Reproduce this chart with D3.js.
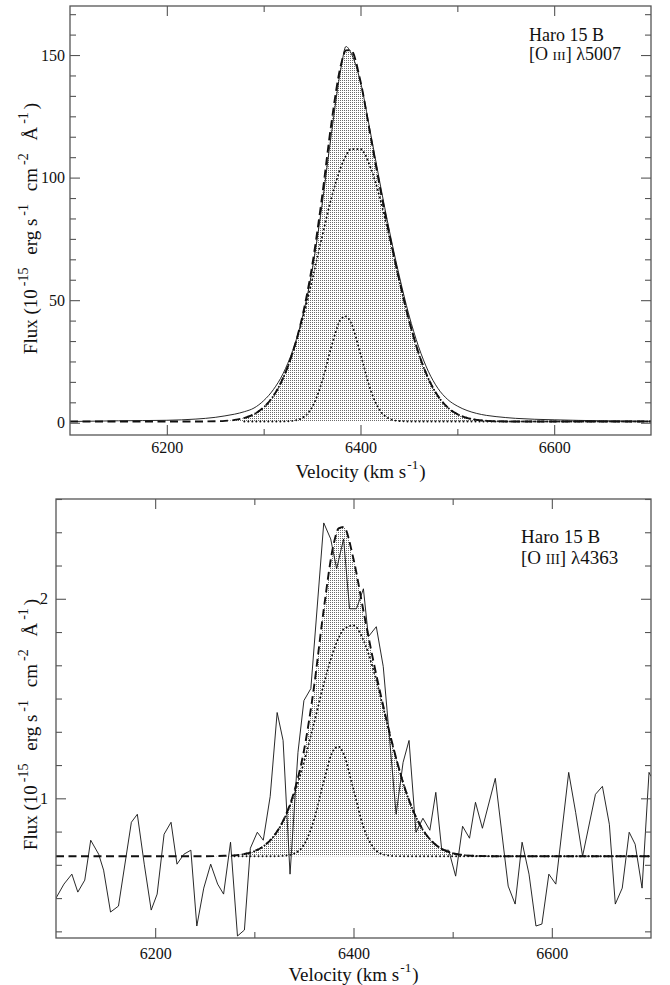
<!DOCTYPE html>
<html><head><meta charset="utf-8">
<script src="https://cdn.jsdelivr.net/npm/d3@7"></script>
<style>
body{margin:0;background:#fff}
svg{display:block}
text{font-family:"Liberation Serif","Times New Roman",serif;fill:#111}
</style>
</head><body>
<svg id="c" width="670" height="985"></svg>
<script>
// ---------- DATA ----------
const xTickLabels = [6200, 6400, 6600];
const xMinorTicks = [6300, 6500];

// Top panel: [O III] 5007
const topYTickLabels = [0, 50, 100, 150];
const topVel = [6100,6150,6200,6230,6250,6260,6270,6280,6290,6300,6310,6320,6330,6340,6350,6360,6370,6380,6385,6390,6400,6410,6420,6430,6440,6450,6460,6470,6480,6490,6500,6510,6520,6530,6540,6560,6600,6650,6700];
const topObs = [0.5,0.8,1.0,1.5,2.2,2.8,3.5,4.5,6.0,9.0,13.5,20,29.5,43,62,88,118,145,153.5,151,139,119,98,78,60,44,31,21,14,9.5,6.8,5.0,3.8,3.0,2.5,1.8,1.2,0.8,0.6];
const topTotal = [0.5,0.5,0.5,0.51,0.61,0.78,1.16,1.95,3.49,6.26,10.92,18.17,28.71,43.44,63.88,91.25,122.33,146.33,151.9,152.0,139.2,117.85,96.27,76.51,58.29,41.92,28.43,18.1,10.9,6.26,3.49,1.95,1.16,0.78,0.61,0.51,0.5,0.5,0.5];
const topCompVel = [6280,6290,6300,6310,6320,6330,6340,6350,6360,6370,6380,6385,6390,6400,6410,6420,6430,6440,6450,6460,6470,6480,6490,6500,6510,6520,6530,6540,6560,6600,6650,6700];
const topBroad = [1.95,3.49,6.26,10.92,18.13,28.43,41.93,58.06,75.37,91.7,104.5,108.9,111.6,111.6,104.5,91.7,75.4,58.1,41.9,28.4,18.1,10.9,6.26,3.49,1.95,1.16,0.78,0.61,0.51,0.5,0.5,0.5];
const topNarrow = [0.5,0.5,0.5,0.5,0.54,0.78,2.01,6.32,16.38,31.13,42.33,43.4,40.9,28.11,13.85,5.07,1.61,0.69,0.52,0.5,0.5,0.5,0.5,0.5,0.5,0.5,0.5,0.5,0.5,0.5,0.5,0.5];
const topContinuum = 0.5;

// Bottom panel: [O III] 4363
const botYTickLabels = [1, 2];
const botObsVel = [6100,6108,6116,6122,6129,6135,6143,6148,6155,6163,6176,6182,6189,6196,6202,6209,6216,6222,6229,6236,6242,6249,6256,6263,6269,6276,6283,6290,6296,6303,6309,6316,6323,6329,6336,6344,6350,6357,6370,6377,6383,6390,6396,6403,6410,6415,6423,6430,6443,6450,6456,6463,6470,6477,6483,6489,6496,6503,6510,6517,6523,6530,6543,6556,6563,6570,6577,6584,6590,6597,6604,6617,6624,6631,6644,6651,6658,6664,6671,6678,6684,6691,6698,6700];
const botObs = [0.50,0.57,0.62,0.53,0.59,0.79,0.72,0.64,0.43,0.46,0.88,0.92,0.67,0.44,0.52,0.82,0.88,0.67,0.72,0.74,0.36,0.55,0.67,0.57,0.52,0.78,0.31,0.34,0.75,0.83,0.79,1.01,1.43,1.29,0.62,1.23,1.49,1.55,2.38,2.30,2.15,2.30,1.95,1.95,2.05,1.81,1.86,1.66,0.92,1.18,1.29,0.83,0.90,0.84,1.03,0.74,0.74,0.61,0.86,0.80,0.98,0.85,1.10,0.56,0.47,0.78,0.62,0.36,0.37,0.62,0.57,1.13,0.93,0.71,1.02,1.06,0.87,0.47,0.55,0.83,0.77,0.55,1.13,1.11];
const botFitVel = [6100,6250,6270,6280,6290,6300,6310,6320,6330,6340,6350,6360,6370,6380,6385,6390,6400,6410,6420,6430,6440,6450,6460,6470,6480,6490,6500,6510,6520,6540,6600,6700];
const botTotal = [0.71,0.71,0.712,0.714,0.721,0.735,0.763,0.813,0.897,1.031,1.238,1.552,1.947,2.274,2.353,2.360,2.199,1.940,1.689,1.463,1.258,1.079,0.940,0.842,0.780,0.744,0.725,0.716,0.712,0.71,0.71,0.71];
const botCompVel = [6280,6290,6300,6310,6320,6330,6340,6350,6360,6370,6380,6385,6390,6400,6410,6420,6430,6440,6450,6460,6470,6480,6490,6500,6510,6520,6540,6600,6700];
const botBroad = [0.714,0.721,0.735,0.763,0.813,0.896,1.018,1.181,1.373,1.572,1.741,1.804,1.847,1.866,1.793,1.645,1.454,1.255,1.079,0.940,0.842,0.780,0.744,0.725,0.716,0.712,0.71,0.71,0.71];
const botNarrow = [0.71,0.71,0.71,0.71,0.71,0.712,0.723,0.768,0.889,1.085,1.243,1.259,1.223,1.044,0.857,0.754,0.719,0.711,0.71,0.71,0.71,0.71,0.71,0.71,0.71,0.71,0.71,0.71,0.71];
const botContinuum = 0.71;

// ---------- DRAW ----------
const svg = d3.select('#c');
const defs = svg.append('defs');
const pat = defs.append('pattern').attr('id','stip').attr('patternUnits','userSpaceOnUse')
  .attr('width',2).attr('height',2);
pat.append('rect').attr('width',2).attr('height',2).attr('fill','#fff');
pat.append('rect').attr('width',1).attr('height',1).attr('fill','#6a6a6a');

// parts: [text, kind, dx]
function rich(sel, parts, size, supScale){
  let cur = 0;
  parts.forEach(([t,k,dx])=>{
    const ts = sel.append('tspan').text(t);
    let target = 0;
    if(k==='sup'){ target = -size*0.45; ts.attr('font-size', size*(supScale||0.68)); }
    else if(k==='sc'){ ts.attr('font-size', size*0.74); }
    if(target-cur !== 0) ts.attr('dy', target-cur);
    if(dx) ts.attr('dx', dx);
    cur = target;
  });
}

const fluxLabel = [['Flux (10'],['-15','sup',3],[' erg s','',8],['-1','sup',3],[' cm','',8],['-2','sup',3],[' \u00C5','',8],['-1','sup',3],[')','',3]];
const velLabel = [['Velocity (km s'],['-1','sup',1],[')','',1]];

function panel(cfg, id){
  const {x0,x1,y0,y1,ydom} = cfg;
  const x = d3.scaleLinear().domain([6100,6700]).range([x0,x1]);
  const y = d3.scaleLinear().domain(ydom).range([y1,y0]);
  const g = svg.append('g');
  defs.append('clipPath').attr('id','clip'+id).append('rect')
    .attr('x',x0).attr('y',y0).attr('width',x1-x0).attr('height',y1-y0);
  const plot = g.append('g').attr('clip-path','url(#clip'+id+')');

  // stippled area between continuum and total fit
  const area = d3.area().x((d,i)=>x(cfg.fitVel[i])).y0(y(cfg.cont)).y1(d=>y(d)).curve(d3.curveMonotoneX);
  plot.append('path').datum(cfg.total).attr('d',area).attr('fill','url(#stip)').attr('stroke','none');

  const lineOf = (vels, curve) => d3.line().x((d,i)=>x(vels[i])).y(d=>y(d)).curve(curve);
  // components (dotted)
  [cfg.broad, cfg.narrow].forEach(arr=>{
    plot.append('path').datum(arr).attr('d', lineOf(cfg.compVel, d3.curveMonotoneX))
      .attr('fill','none').attr('stroke','#111').attr('stroke-width',1.9)
      .attr('stroke-dasharray','0.1,3.9').attr('stroke-linecap','round');
  });
  // total fit (dashed)
  plot.append('path').datum(cfg.total).attr('d', lineOf(cfg.fitVel, d3.curveMonotoneX))
    .attr('fill','none').attr('stroke','#111').attr('stroke-width',1.9).attr('stroke-dasharray','8,4.5');
  // observed (solid)
  plot.append('path').datum(cfg.obs).attr('d', lineOf(cfg.obsVel, cfg.obsCurve))
    .attr('fill','none').attr('stroke','#111').attr('stroke-width',0.9);

  // axes
  const tc = '#555';
  const styleAxis = a => { a.select('.domain').remove(); a.selectAll('line').attr('stroke',tc).attr('stroke-width',1.1);
    a.selectAll('text').attr('font-family','"Liberation Serif","Times New Roman",serif').attr('font-size',cfg.tickFont).attr('fill','#222'); };
  g.append('g').attr('transform',`translate(0,${y1})`)
    .call(d3.axisBottom(x).tickValues(xTickLabels).tickSize(-10).tickSizeOuter(0).tickPadding(cfg.xPad).tickFormat(d3.format('d'))).call(styleAxis);
  g.append('g').attr('transform',`translate(0,${y1})`)
    .call(d3.axisBottom(x).tickValues(xMinorTicks).tickSize(-6).tickSizeOuter(0).tickFormat('')).call(styleAxis);
  g.append('g').attr('transform',`translate(0,${y0})`)
    .call(d3.axisTop(x).tickValues(xTickLabels).tickSize(-10).tickSizeOuter(0).tickFormat('')).call(styleAxis);
  g.append('g').attr('transform',`translate(0,${y0})`)
    .call(d3.axisTop(x).tickValues(xMinorTicks).tickSize(-6).tickSizeOuter(0).tickFormat('')).call(styleAxis);

  const step = (cfg.yMajor[1]-cfg.yMajor[0])/6;
  const minor = d3.range(Math.ceil(ydom[0]/step), Math.floor(ydom[1]/step)+1).map(k=>k*step)
    .filter(v=>!cfg.yMajor.some(m=>Math.abs(m-v)<1e-9));
  g.append('g').attr('transform',`translate(${x0},0)`)
    .call(d3.axisLeft(y).tickValues(cfg.yMajor).tickSize(-10).tickSizeOuter(0).tickPadding(cfg.yPad).tickFormat(d3.format('d'))).call(styleAxis);
  g.append('g').attr('transform',`translate(${x0},0)`)
    .call(d3.axisLeft(y).tickValues(minor).tickSize(-6).tickSizeOuter(0).tickFormat('')).call(styleAxis);
  g.append('g').attr('transform',`translate(${x1},0)`)
    .call(d3.axisRight(y).tickValues(cfg.yMajor).tickSize(-10).tickSizeOuter(0).tickFormat('')).call(styleAxis);
  g.append('g').attr('transform',`translate(${x1},0)`)
    .call(d3.axisRight(y).tickValues(minor).tickSize(-6).tickSizeOuter(0).tickFormat('')).call(styleAxis);

  g.append('rect').attr('x',x0).attr('y',y0).attr('width',x1-x0).attr('height',y1-y0)
    .attr('fill','none').attr('stroke','#555').attr('stroke-width',1.3);

  // axis titles
  const xt = g.append('text').attr('x',(x0+x1)/2).attr('y',cfg.xTitleY).attr('text-anchor','middle').attr('font-size',19);
  rich(xt, velLabel, 19, 0.7);
  const yt = g.append('text').attr('transform',`translate(${cfg.yTitleX},${(y0+y1)/2+cfg.yTitleDy}) rotate(-90)`)
    .attr('text-anchor','middle').attr('font-size',19);
  rich(yt, fluxLabel, 19, 0.74);

  // annotation
  g.append('text').attr('x',cfg.annX).attr('y',cfg.annY).attr('font-size',cfg.annFont).text('Haro 15 B');
  const a2 = g.append('text').attr('x',cfg.annX).attr('y',cfg.annY+cfg.annGap).attr('font-size',cfg.annFont);
  rich(a2, [['[O '],['III','sc'],['] \u03BB'+cfg.lineName]], cfg.annFont);
}

panel({x0:70,x1:651,y0:6,y1:435,ydom:[-5,170],yMajor:topYTickLabels,
  fitVel:topVel,total:topTotal,cont:topContinuum,compVel:topCompVel,broad:topBroad,narrow:topNarrow,
  obsVel:topVel,obs:topObs,obsCurve:d3.curveMonotoneX,
  tickFont:16,xPad:7,yPad:5,xTitleY:478,yTitleX:37,yTitleDy:8,
  annX:529,annY:41,annGap:19,annFont:18,lineName:'5007'},1);

panel({x0:56,x1:651,y0:499,y1:938,ydom:[0.3,2.5],yMajor:botYTickLabels,
  fitVel:botFitVel,total:botTotal,cont:botContinuum,compVel:botCompVel,broad:botBroad,narrow:botNarrow,
  obsVel:botObsVel,obs:botObs,obsCurve:d3.curveLinear,
  tickFont:16,xPad:10,yPad:8,xTitleY:981,yTitleX:37,yTitleDy:6,
  annX:521,annY:543,annGap:21,annFont:19,lineName:'4363'},2);
</script>
</body></html>
